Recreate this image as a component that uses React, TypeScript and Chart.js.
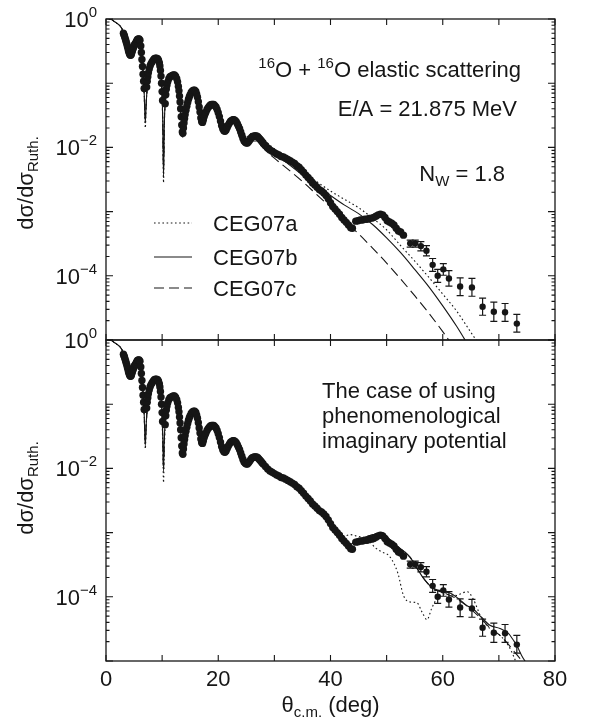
import { useEffect, useRef } from "react";
import { Chart, registerables } from "chart.js";

Chart.register(...registerables);

const FONT = '"Liberation Sans", Arial, Helvetica, sans-serif';
const INK = "#161616";

// Axis layout
const X_MIN = 0;
const X_MAX = 80;
const X_TICKS = [0, 10, 20, 30, 40, 50, 60, 70, 80];
const X_TICK_LABELS = [0, 20, 40, 60, 80];
const Y_MIN = 1e-5;
const Y_MAX = 1;
const Y_DECADES = [-5, -4, -3, -2, -1, 0];
const Y_TICK_LABELS = [0, -2, -4];

// Measured cross sections, dense forward-angle set (deg, ratio to Rutherford)
const EXP_THETA = [
  3.1, 3.2, 3.3, 3.4, 3.5, 3.6, 3.7, 3.8, 3.9, 4.0, 4.1, 4.2, 4.3, 4.4, 4.5, 4.6, 4.7, 4.8, 4.9, 5.0, 5.1, 5.2,
  5.3, 5.45, 5.6, 5.75, 5.9, 6.05, 6.2, 6.3, 6.4, 6.5, 6.6, 6.7, 6.8,
  7.25, 7.35, 7.45, 7.55, 7.7, 7.85, 8.0, 8.2, 8.4, 8.6, 8.8, 9.0, 9.2, 9.35, 9.5, 9.6, 9.7, 9.8, 9.9, 10.0, 10.08,
  10.55, 10.65, 10.75, 10.85, 11.0, 11.2, 11.4, 11.6, 11.8, 12.0, 12.2, 12.4, 12.6, 12.75, 12.9, 13.0, 13.1, 13.2,
  13.3, 13.4, 13.5, 13.6, 13.7, 13.8, 13.9, 14.0, 14.1, 14.25, 14.4, 14.55, 14.7, 14.85, 15.0, 15.2, 15.4, 15.6,
  15.8, 16.0, 16.15, 16.3, 16.45, 16.6, 16.75, 16.9, 17.05, 17.2, 17.35, 17.5, 17.65, 17.8, 18.0, 18.2, 18.4, 18.6,
  18.8, 19.0, 19.2, 19.4, 19.6, 19.8, 20.0, 20.2, 20.4, 20.6, 20.8, 21.0, 21.2, 21.4, 21.6, 21.8, 22.0, 22.2, 22.4,
  22.6, 22.8, 23.0, 23.2, 23.4, 23.6, 23.8, 24.0, 24.2, 24.4, 24.6, 24.8, 25.0, 25.2, 25.4, 25.6, 25.8, 26.0, 26.2,
  26.4, 26.6, 26.8, 27.0, 27.2, 27.4, 27.6, 27.8, 28.0, 28.4, 28.8,
  29.2, 29.6, 30.0, 30.4, 30.8, 31.2, 31.6, 32.0, 32.4, 32.8, 33.2, 33.6, 34.0, 34.4, 34.8, 35.2,
  35.6, 36.0, 36.4, 36.8, 37.2, 37.6, 38.0, 38.4, 38.8, 39.2, 39.6, 40.0, 40.4, 40.8, 41.2, 41.6,
  42.0, 42.4, 42.8, 43.2, 43.6, 43.9,
  44.5, 44.9, 45.3, 45.7, 46.1, 46.5, 46.9, 47.3, 47.7, 48.1, 48.5, 48.9, 49.3, 49.7, 50.1, 50.5,
  50.9, 51.3, 51.7, 52.1, 52.5, 53.0,
];
const EXP_SIGMA = [
  0.6, 0.57, 0.54, 0.5, 0.47, 0.44, 0.41, 0.38, 0.35, 0.32, 0.3, 0.285, 0.275, 0.273, 0.28, 0.3, 0.32, 0.34, 0.36, 0.38, 0.4, 0.41,
  0.427, 0.457, 0.479, 0.49, 0.49, 0.468, 0.38, 0.302, 0.234, 0.182, 0.138, 0.107, 0.083,
  0.087, 0.107, 0.126, 0.145, 0.166, 0.186, 0.2, 0.214, 0.229, 0.24, 0.245, 0.245, 0.24, 0.229, 0.209, 0.186, 0.158, 0.129, 0.1, 0.074, 0.054,
  0.048, 0.066, 0.081, 0.093, 0.105, 0.117, 0.126, 0.129, 0.132, 0.135, 0.135, 0.129, 0.117, 0.105, 0.089, 0.076, 0.063, 0.051,
  0.04, 0.03, 0.0224, 0.0174, 0.0166, 0.02, 0.024, 0.0282, 0.0324, 0.038, 0.0437, 0.05, 0.0562, 0.0617, 0.066, 0.0724, 0.0759, 0.0776,
  0.0776, 0.0741, 0.0676, 0.0603, 0.0513, 0.0427, 0.0355, 0.0288, 0.0251, 0.0245, 0.0269, 0.0302, 0.0331, 0.0355, 0.0389, 0.0417, 0.0437, 0.0457,
  0.0468, 0.0468, 0.0468, 0.0447, 0.0427, 0.0389, 0.0347, 0.0302, 0.0257, 0.0219, 0.0195, 0.0182, 0.0178, 0.0186, 0.0204, 0.0224, 0.024, 0.0257, 0.0263,
  0.0269, 0.0269, 0.0263, 0.0251, 0.0234, 0.0214, 0.0195, 0.0174, 0.0155, 0.0138, 0.0126, 0.012, 0.0117, 0.0117, 0.0123, 0.0129, 0.0138, 0.0145, 0.0148,
  0.0151, 0.0151, 0.0151, 0.0148, 0.0141, 0.0135, 0.0129, 0.0123, 0.0117, 0.0107, 0.0098,
  0.0091, 0.0087, 0.0083, 0.0079, 0.0076, 0.0072, 0.0071, 0.0068, 0.0065, 0.0062, 0.0059, 0.0056, 0.0052, 0.0049, 0.0045, 0.0041,
  0.0037, 0.0034, 0.0031, 0.0028, 0.0026, 0.0024, 0.0022, 0.0021, 0.00195, 0.00178, 0.00158, 0.00138, 0.0012, 0.0011, 0.001, 0.00091,
  0.00081, 0.00074, 0.00068, 0.00062, 0.00056, 0.00055,
  0.00071, 0.00072, 0.00074, 0.00074, 0.00076, 0.00076, 0.00078, 0.00079, 0.00081, 0.00085, 0.00089, 0.00091, 0.00089, 0.00081, 0.00072, 0.00069,
  0.00066, 0.00062, 0.00055, 0.0005, 0.00048, 0.00043,
];

// Measured cross sections at backward angles, with error bars
const ERR_THETA = [54.2, 55.1, 56.1, 57.1, 58.2, 59.1, 60.1, 61.1, 63.1, 65.2, 67.1, 69.1, 71.1, 73.2];
const ERR_SIGMA = [3.2e-4, 3.2e-4, 2.9e-4, 2.45e-4, 1.48e-4, 1.0e-4, 1.26e-4, 9.1e-5, 6.8e-5, 6.6e-5, 3.3e-5, 2.75e-5, 2.7e-5, 1.8e-5];
const ERR_LOW = [2.8e-4, 2.8e-4, 2.45e-4, 2.04e-4, 1.17e-4, 7.9e-5, 1.02e-4, 6.9e-5, 4.9e-5, 4.8e-5, 2.43e-5, 1.95e-5, 1.95e-5, 1.33e-5];
const ERR_HIGH = [3.6e-4, 3.6e-4, 3.4e-4, 2.95e-4, 1.86e-4, 1.26e-4, 1.55e-4, 1.2e-4, 9.3e-5, 9.1e-5, 4.5e-5, 3.9e-5, 3.7e-5, 2.5e-5];

// CEG07 folding-model calculations with N_W = 1.8 (upper panel)
const THETA_UPPER = [
  0.5, 1, 1.5, 2, 2.5, 3, 3.5, 4, 4.4, 4.8,
  5.3, 5.8, 6.2, 6.5, 6.8, 7.0, 7.2, 7.5, 8.0, 8.6,
  9.1, 9.6, 9.9, 10.1, 10.25, 10.4, 10.7, 11.1, 11.6, 12.2,
  12.8, 13.2, 13.6, 14.0, 14.5, 15.1, 15.8, 16.4, 17.0, 17.6,
  18.4, 19.2, 20.0, 20.7, 21.2, 21.8, 22.7, 23.6, 24.4, 25.1,
  26.0, 26.8, 27.8, 29.0, 30.0, 32.5, 35.0, 37.5, 40.0, 42.5,
  45.0, 47.5, 50.0, 52.5, 55.0, 57.5, 60.0, 62.5, 65.0, 67.5,
];
const CEG07A_UPPER = [
  1.0, 0.98, 0.91, 0.85, 0.78, 0.66, 0.49, 0.34, 0.28, 0.32,
  0.42, 0.47, 0.37, 0.2, 0.071, 0.02, 0.056, 0.12, 0.19, 0.234,
  0.24, 0.19, 0.105, 0.028, 0.0028, 0.025, 0.063, 0.105, 0.129, 0.135,
  0.102, 0.052, 0.0138, 0.028, 0.05, 0.069, 0.078, 0.056, 0.025, 0.0316,
  0.0427, 0.0457, 0.0363, 0.0219, 0.0182, 0.0219, 0.0282, 0.0229, 0.0166, 0.0148,
  0.0166, 0.0166, 0.0138, 0.0112, 0.0095, 0.0063, 0.0042, 0.00295, 0.00209, 0.00155,
  0.00115, 0.00079, 0.00052, 0.000295, 0.00017, 9.5e-5, 5.2e-5, 2.8e-5, 1.32e-5, 6.3e-6,
];
const CEG07B_UPPER = [
  1.0, 0.98, 0.91, 0.85, 0.78, 0.66, 0.49, 0.34, 0.28, 0.32,
  0.42, 0.47, 0.37, 0.2, 0.071, 0.024, 0.056, 0.12, 0.19, 0.234,
  0.24, 0.19, 0.105, 0.028, 0.0035, 0.025, 0.063, 0.105, 0.129, 0.135,
  0.102, 0.052, 0.015, 0.028, 0.05, 0.069, 0.078, 0.056, 0.025, 0.0316,
  0.0427, 0.0457, 0.0363, 0.0219, 0.0182, 0.0219, 0.0263, 0.0209, 0.0141, 0.0123,
  0.0141, 0.0145, 0.012, 0.0095, 0.0079, 0.0055, 0.0037, 0.00257, 0.00178, 0.00126,
  0.00093, 0.00063, 0.00039, 0.000229, 0.000126, 6.8e-5, 3.4e-5, 1.62e-5, 7.1e-6, 3.2e-6,
];
const CEG07C_UPPER = [
  1.0, 0.98, 0.91, 0.85, 0.78, 0.66, 0.49, 0.34, 0.28, 0.32,
  0.42, 0.47, 0.37, 0.2, 0.071, 0.028, 0.056, 0.12, 0.19, 0.234,
  0.24, 0.19, 0.105, 0.028, 0.0045, 0.025, 0.063, 0.105, 0.129, 0.135,
  0.102, 0.052, 0.0166, 0.028, 0.05, 0.069, 0.078, 0.056, 0.025, 0.0316,
  0.0427, 0.0457, 0.0363, 0.0219, 0.0182, 0.0219, 0.0251, 0.0195, 0.0129, 0.011,
  0.0126, 0.0126, 0.0102, 0.0081, 0.0068, 0.0045, 0.00295, 0.00186, 0.00117, 0.00072,
  0.00045, 0.00027, 0.000158, 8.9e-5, 4.9e-5, 2.63e-5, 1.35e-5, 6.6e-6, 3.2e-6, 1.6e-6,
];

// Calculations with the phenomenological imaginary potential (lower panel)
const THETA_LOWER = [
  0.5, 1, 1.5, 2, 2.5, 3, 3.5, 4, 4.4, 4.8,
  5.3, 5.8, 6.2, 6.5, 6.8, 7.0, 7.2, 7.5, 8.0, 8.6,
  9.1, 9.6, 9.9, 10.1, 10.25, 10.4, 10.7, 11.1, 11.6, 12.2,
  12.8, 13.2, 13.6, 14.0, 14.5, 15.1, 15.8, 16.4, 17.0, 17.6,
  18.4, 19.2, 20.0, 20.7, 21.2, 21.8, 22.7, 23.6, 24.4, 25.1,
  26.0, 26.8, 27.8, 29.0, 30.0, 32.5, 35.0, 37.5, 40.0, 42.5,
  43.5, 44.5, 46.5, 48.0, 49.1, 50.5, 52.0, 53.0, 54.2, 55.4,
  56.3, 57.2, 58.0, 58.9, 60.0, 61.3, 62.5, 63.5, 64.4, 65.4,
  66.9, 68.4, 70.2, 71.7, 72.6, 73.2, 74.1, 75.0, 76.0,
];
const CEG07A_LOWER = [
  1.0, 0.98, 0.91, 0.85, 0.78, 0.66, 0.49, 0.34, 0.28, 0.32,
  0.42, 0.47, 0.37, 0.2, 0.071, 0.02, 0.056, 0.12, 0.19, 0.234,
  0.24, 0.19, 0.105, 0.025, 0.006, 0.022, 0.063, 0.105, 0.129, 0.135,
  0.102, 0.052, 0.017, 0.028, 0.05, 0.069, 0.078, 0.056, 0.022, 0.0316,
  0.0427, 0.0457, 0.0363, 0.0219, 0.0186, 0.0219, 0.0263, 0.0204, 0.0138, 0.012,
  0.0145, 0.0155, 0.0126, 0.0095, 0.0083, 0.0065, 0.0043, 0.0025, 0.00145, 0.00089,
  0.00093, 0.00089, 0.00079, 0.00058, 0.0005, 0.00043, 0.000234, 0.000105, 8.3e-5, 8.1e-5,
  5.8e-5, 4.4e-5, 6.5e-5, 9.3e-5, 1.1e-4, 1.07e-4, 1.05e-4, 1.15e-4, 1.2e-4, 9.3e-5,
  4.7e-5, 3.2e-5, 2.5e-5, 1.74e-5, 1.2e-5, 8.9e-6, 5.6e-6, 4.0e-6, 2.5e-6,
];
const CEG07B_LOWER = [
  1.0, 0.98, 0.91, 0.85, 0.78, 0.66, 0.49, 0.34, 0.28, 0.32,
  0.42, 0.47, 0.37, 0.2, 0.071, 0.0224, 0.056, 0.12, 0.19, 0.234,
  0.24, 0.19, 0.105, 0.0355, 0.01, 0.0316, 0.063, 0.105, 0.129, 0.135,
  0.102, 0.052, 0.019, 0.028, 0.05, 0.069, 0.078, 0.056, 0.022, 0.0316,
  0.0427, 0.0457, 0.0363, 0.0219, 0.0186, 0.0219, 0.0263, 0.0204, 0.0138, 0.012,
  0.0145, 0.0155, 0.0126, 0.0095, 0.0083, 0.0065, 0.0043, 0.0025, 0.00145, 0.00079,
  0.00066, 0.00071, 0.00087, 0.00095, 0.001, 0.00079, 0.0006, 0.00052, 0.00041, 0.00028,
  0.00021, 0.000166, 0.000141, 0.000129, 0.00012, 0.000115, 9.8e-5, 8.3e-5, 7.2e-5, 6.5e-5,
  4.8e-5, 3.6e-5, 3.2e-5, 2.7e-5, 2.1e-5, 1.74e-5, 1.2e-5, 8.9e-6, 6.3e-6,
];
const CEG07C_LOWER = [
  1.0, 0.98, 0.91, 0.85, 0.78, 0.66, 0.49, 0.34, 0.28, 0.32,
  0.42, 0.47, 0.37, 0.2, 0.071, 0.026, 0.056, 0.12, 0.19, 0.234,
  0.24, 0.19, 0.105, 0.033, 0.009, 0.03, 0.063, 0.105, 0.129, 0.135,
  0.102, 0.052, 0.02, 0.028, 0.05, 0.069, 0.078, 0.056, 0.022, 0.0316,
  0.0427, 0.0457, 0.0363, 0.0219, 0.0186, 0.0219, 0.0263, 0.0204, 0.0138, 0.012,
  0.0145, 0.0155, 0.0126, 0.0095, 0.0083, 0.0065, 0.0043, 0.0025, 0.00145, 0.00081,
  0.00068, 0.00071, 0.00087, 0.00095, 0.001, 0.00079, 0.0006, 0.00052, 0.00041, 0.00028,
  0.00021, 0.000166, 0.000141, 0.000126, 1.17e-4, 1.05e-4, 9.3e-5, 8.1e-5, 7.1e-5, 6.0e-5,
  4.5e-5, 3.3e-5, 2.5e-5, 1.82e-5, 1.45e-5, 1.26e-5, 1.0e-5, 7.6e-6, 5.0e-6,
];

const LEGEND_NAMES = ["CEG07a", "CEG07b", "CEG07c"];
const DASHES: number[][] = [[1.6, 2.6], [], [10, 5]];

type Run = { text: string; size: number; dy?: number };

function drawRuns(
  ctx: CanvasRenderingContext2D,
  runs: Run[],
  x: number,
  y: number,
  align: "left" | "right" | "center"
) {
  const widths = runs.map((r) => {
    ctx.font = `${r.size}px ${FONT}`;
    return ctx.measureText(r.text).width;
  });
  const total = widths.reduce((a, b) => a + b, 0);
  let cx = align === "left" ? x : align === "right" ? x - total : x - total / 2;
  ctx.textAlign = "left";
  ctx.textBaseline = "alphabetic";
  runs.forEach((r, i) => {
    ctx.font = `${r.size}px ${FONT}`;
    ctx.fillText(r.text, cx, y + (r.dy ?? 0));
    cx += widths[i];
  });
}

const pairs = (xs: number[], ys: number[]) => xs.map((x, i) => ({ x, y: ys[i] }));

type Kind = "upper" | "lower";

const panelPlugin = {
  id: "panelFrame",
  afterDatasetsDraw(chart: any, _args: any, opts: any) {
    const kind: Kind = opts.kind;
    const { ctx, chartArea: a, scales } = chart;
    const xs = scales.x;
    const ys = scales.y;
    ctx.save();
    ctx.strokeStyle = INK;
    ctx.fillStyle = INK;

    // error bars on the backward-angle points
    ctx.lineWidth = 1.2;
    ERR_THETA.forEach((t, i) => {
      const px = xs.getPixelForValue(t);
      const lo = ys.getPixelForValue(ERR_LOW[i]);
      const hi = ys.getPixelForValue(ERR_HIGH[i]);
      ctx.beginPath();
      ctx.moveTo(px, lo);
      ctx.lineTo(px, hi);
      ctx.moveTo(px - 3.5, lo);
      ctx.lineTo(px + 3.5, lo);
      ctx.moveTo(px - 3.5, hi);
      ctx.lineTo(px + 3.5, hi);
      ctx.stroke();
    });

    // frame
    ctx.lineWidth = 1.3;
    ctx.strokeRect(a.left, a.top, a.right - a.left, a.bottom - a.top);

    // inward ticks
    ctx.lineWidth = 1.1;
    ctx.beginPath();
    X_TICKS.forEach((t) => {
      const px = xs.getPixelForValue(t);
      ctx.moveTo(px, a.top);
      ctx.lineTo(px, a.top + 6);
      ctx.moveTo(px, a.bottom);
      ctx.lineTo(px, a.bottom - 6);
    });
    Y_DECADES.forEach((k) => {
      const py = ys.getPixelForValue(Math.pow(10, k));
      ctx.moveTo(a.left, py);
      ctx.lineTo(a.left + 7, py);
      ctx.moveTo(a.right, py);
      ctx.lineTo(a.right - 7, py);
      if (k < 0) {
        for (let m = 2; m <= 9; m++) {
          const pm = ys.getPixelForValue(m * Math.pow(10, k));
          ctx.moveTo(a.left, pm);
          ctx.lineTo(a.left + 3.5, pm);
          ctx.moveTo(a.right, pm);
          ctx.lineTo(a.right - 3.5, pm);
        }
      }
    });
    ctx.stroke();

    // y tick labels
    Y_TICK_LABELS.forEach((k) => {
      const py = ys.getPixelForValue(Math.pow(10, k));
      const sup = k === 0 ? "0" : "\u2212" + Math.abs(k);
      drawRuns(ctx, [{ text: "10", size: 22 }, { text: sup, size: 15, dy: -10 }], 97, py + 8, "right");
    });

    // y axis title
    ctx.save();
    ctx.translate(33, kind === "upper" ? 183 : 168);
    ctx.rotate(-Math.PI / 2);
    drawRuns(ctx, [{ text: "d\u03c3/d\u03c3", size: 22 }, { text: "Ruth.", size: 15, dy: 5 }], 0, 0, "center");
    ctx.restore();

    if (kind === "upper") {
      drawRuns(
        ctx,
        [
          { text: "16", size: 15, dy: -9 },
          { text: "O + ", size: 22 },
          { text: "16", size: 15, dy: -9 },
          { text: "O elastic scattering", size: 22 },
        ],
        521,
        77,
        "right"
      );
      drawRuns(ctx, [{ text: "E/A = 21.875 MeV", size: 22 }], 517, 116, "right");
      drawRuns(
        ctx,
        [
          { text: "N", size: 22 },
          { text: "W", size: 15, dy: 5 },
          { text: " = 1.8", size: 22 },
        ],
        505,
        181,
        "right"
      );
      // legend
      const rows = [223, 257, 288];
      LEGEND_NAMES.forEach((name, i) => {
        ctx.setLineDash(DASHES[i]);
        ctx.lineWidth = 1.2;
        ctx.beginPath();
        ctx.moveTo(154, rows[i]);
        ctx.lineTo(192, rows[i]);
        ctx.stroke();
        ctx.setLineDash([]);
        drawRuns(ctx, [{ text: name, size: 22 }], 213, rows[i] + 8, "left");
      });
    } else {
      const lines = ["The case of using", "phenomenological", "imaginary potential"];
      lines.forEach((l, i) => drawRuns(ctx, [{ text: l, size: 22 }], 322, 78 + i * 25, "left"));
      X_TICK_LABELS.forEach((t) => {
        drawRuns(ctx, [{ text: String(t), size: 22 }], xs.getPixelForValue(t), a.bottom + 25, "center");
      });
      drawRuns(
        ctx,
        [
          { text: "\u03b8", size: 22 },
          { text: "c.m.", size: 15, dy: 5 },
          { text: " (deg)", size: 22 },
        ],
        (a.left + a.right) / 2,
        a.bottom + 51,
        "center"
      );
    }
    ctx.restore();
  },
};

function buildDatasets(theta: number[], curves: number[][]) {
  const sets: any[] = [
    {
      label: "data",
      data: pairs(EXP_THETA, EXP_SIGMA),
      showLine: false,
      pointRadius: 3.7,
      pointBackgroundColor: INK,
      pointBorderWidth: 0,
    },
    {
      label: "data-err",
      data: pairs(ERR_THETA, ERR_SIGMA),
      showLine: false,
      pointRadius: 3.2,
      pointBackgroundColor: INK,
      pointBorderWidth: 0,
    },
  ];
  curves.forEach((vals, i) => {
    sets.push({
      label: LEGEND_NAMES[i],
      data: pairs(theta, vals),
      showLine: true,
      pointRadius: 0,
      borderColor: INK,
      borderWidth: 1.1,
      borderDash: DASHES[i],
      cubicInterpolationMode: "monotone",
      fill: false,
    });
  });
  return sets;
}

type PanelProps = {
  kind: Kind;
  top: number;
  height: number;
  padTop: number;
  padBottom: number;
  theta: number[];
  curves: number[][];
};

function Panel({ kind, top, height, padTop, padBottom, theta, curves }: PanelProps) {
  const ref = useRef<HTMLCanvasElement>(null);
  useEffect(() => {
    if (!ref.current) return;
    const chart = new Chart(ref.current, {
      type: "scatter",
      data: { datasets: buildDatasets(theta, curves) },
      options: {
        animation: false,
        responsive: false,
        devicePixelRatio: 1,
        events: [],
        layout: { padding: { left: 106, right: 34, top: padTop, bottom: padBottom } },
        scales: {
          x: { type: "linear", min: X_MIN, max: X_MAX, display: false },
          y: { type: "logarithmic", min: Y_MIN, max: Y_MAX, display: false },
        },
        plugins: {
          legend: { display: false },
          tooltip: { enabled: false },
          panelFrame: { kind },
        } as any,
      },
      plugins: [panelPlugin],
    });
    return () => chart.destroy();
  }, []);
  return (
    <canvas
      ref={ref}
      width={589}
      height={height}
      style={{ position: "absolute", left: 0, top, width: 589, height }}
    />
  );
}

export default function App() {
  return (
    <div style={{ position: "absolute", left: 0, top: 0, width: 589, height: 720, background: "#fff", overflow: "hidden" }}>
      <Panel
        kind="upper"
        top={0}
        height={360}
        padTop={19}
        padBottom={20}
        theta={THETA_UPPER}
        curves={[CEG07A_UPPER, CEG07B_UPPER, CEG07C_UPPER]}
      />
      <Panel
        kind="lower"
        top={320}
        height={400}
        padTop={20}
        padBottom={59}
        theta={THETA_LOWER}
        curves={[CEG07A_LOWER, CEG07B_LOWER, CEG07C_LOWER]}
      />
    </div>
  );
}
